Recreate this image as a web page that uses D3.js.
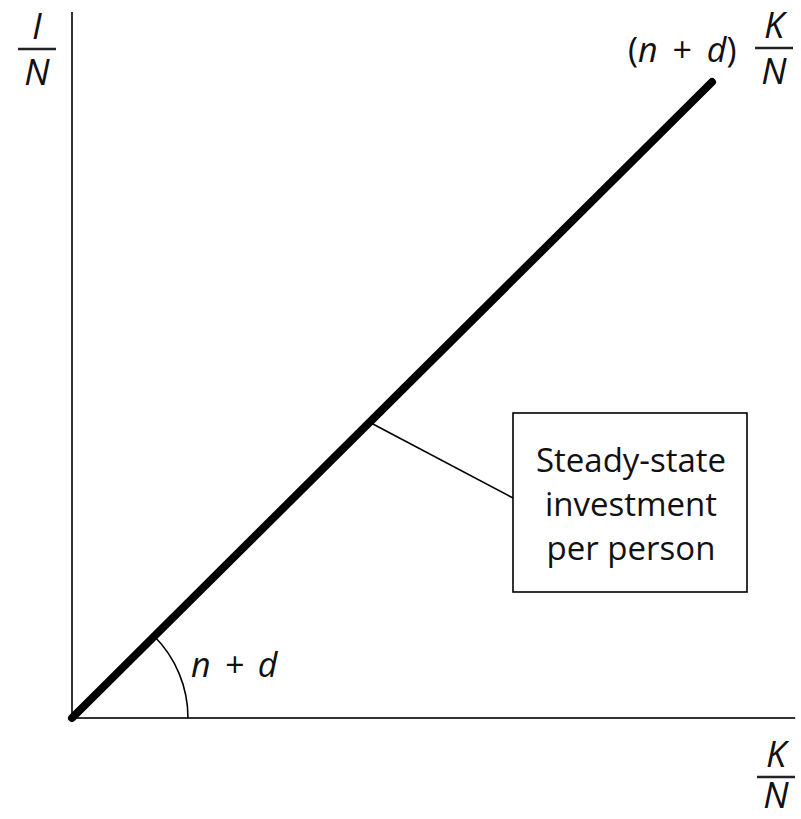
<!DOCTYPE html>
<html><head><meta charset="utf-8">
<script src="https://cdn.jsdelivr.net/npm/d3@7"></script>
<style>body{margin:0;background:#fff}svg{display:block}</style>
</head><body>
<script>
// Data
const capitalPerWorker = [0, 10];          // K/N
const investmentPerWorker = [0, 10];       // (n + d) K/N
const axisMax = [11.3, 11.1];              // x, y axis extents
const leaderAt = 4.65;                     // point on line where the annotation attaches
const boxLines = ["Steady-state", "investment", "per person"];

const W = 801, H = 819;
const svg = d3.select("body").append("svg").attr("width", W).attr("height", H);
const x = d3.scaleLinear().domain([0, 10]).range([72, 712]);
const y = d3.scaleLinear().domain([0, 10]).range([718, 82]);
const font = "'Open Sans', Lato, sans-serif";

// axes
svg.append("line").attr("x1", x(0)).attr("y1", y(0)).attr("x2", x(0)).attr("y2", y(axisMax[1]))
  .attr("stroke", "#333").attr("stroke-width", 2);
svg.append("line").attr("x1", x(0)).attr("y1", y(0)).attr("x2", x(axisMax[0])).attr("y2", y(0))
  .attr("stroke", "#333").attr("stroke-width", 2);

// arc showing slope
const arc = d3.arc().innerRadius(116).outerRadius(116).startAngle(Math.PI/4).endAngle(Math.PI/2);
svg.append("path").attr("d", arc()).attr("transform", `translate(${x(0)},${y(0)})`)
  .attr("fill", "none").attr("stroke", "#000").attr("stroke-width", 1.6);

// main line
const pts = capitalPerWorker.map((k, i) => [k, investmentPerWorker[i]]);
svg.append("path").attr("d", d3.line().x(d => x(d[0])).y(d => y(d[1]))(pts))
  .attr("fill", "none").attr("stroke", "#000").attr("stroke-width", 8).attr("stroke-linecap", "round");

// annotation box
const bx = 513, by = 413, bw = 234, bh = 179;
svg.append("line").attr("x1", x(leaderAt)).attr("y1", y(leaderAt)).attr("x2", bx).attr("y2", 498)
  .attr("stroke", "#000").attr("stroke-width", 1.6);
svg.append("rect").attr("x", bx).attr("y", by).attr("width", bw).attr("height", bh)
  .attr("fill", "#fff").attr("stroke", "#000").attr("stroke-width", 1.6);
svg.selectAll("text.box").data(boxLines).join("text").attr("class", "box")
  .attr("x", bx + bw/2 + 1).attr("y", (d, i) => 472 + i*44).attr("text-anchor", "middle")
  .attr("font-family", font).attr("font-size", 33).attr("fill", "#111").text(d => d);

// slope label
svg.append("text").attr("x", 191).attr("y", 677).attr("font-family", font).attr("font-size", 34)
  .attr("font-style", "italic").attr("fill", "#111").attr("word-spacing", 5).text("n + d");

// fraction helper
function frac(cx, barY, num, den, halfW, gap) {
  svg.append("line").attr("x1", cx - halfW).attr("x2", cx + halfW).attr("y1", barY).attr("y2", barY)
    .attr("stroke", "#222").attr("stroke-width", 2.5);
  svg.append("text").attr("x", cx).attr("y", barY - 10).attr("text-anchor", "middle")
    .attr("font-family", font).attr("font-size", 36).attr("font-style", "italic").attr("fill", "#111").text(num);
  svg.append("text").attr("x", cx).attr("y", barY + gap).attr("text-anchor", "middle")
    .attr("font-family", font).attr("font-size", 36).attr("font-style", "italic").attr("fill", "#111").text(den);
}
frac(37, 49, "I", "N", 19, 36);
frac(774, 48, "K", "N", 19, 36);
frac(776, 777, "K", "N", 19, 31);

// line label
svg.append("text").attr("x", 628).attr("y", 62).attr("font-family", font).attr("font-size", 34)
  .attr("fill", "#111").attr("word-spacing", 6)
  .html('(<tspan font-style="italic">n</tspan> + <tspan font-style="italic">d</tspan>)');
</script>
</body></html>
